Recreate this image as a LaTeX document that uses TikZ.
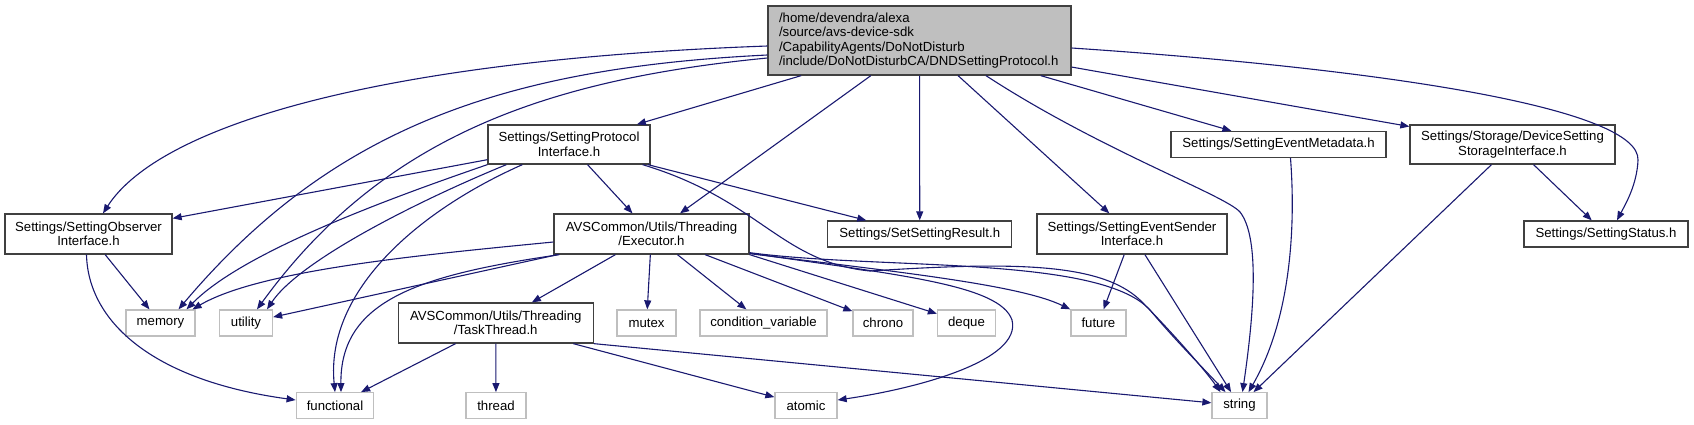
\documentclass[tikz,border=0pt]{standalone}
\usepackage{fontspec}
\setmainfont{Liberation Sans}
\usepackage{xcolor}
\usepackage{tikz}
\usetikzlibrary{arrows.meta}
\definecolor{depblue}{HTML}{191970}
\definecolor{sysgray}{HTML}{BFBFBF}
\definecolor{boxline}{HTML}{404040}
\tikzset{
    hdr/.style={draw=boxline, line width=1.3pt, fill=white, inner sep=0pt,
        align=center, font=\fontsize{13.2}{14.5}\selectfont},
    syshdr/.style={hdr, draw=sysgray},
    roothdr/.style={hdr, fill=sysgray, align=left, text width=281pt,
        inner xsep=11pt, minimum height=69pt},
    dep/.style={draw=depblue, line width=1.1pt,
        -{Triangle[length=9pt,width=7pt]}},
}

\begin{document}
\begin{tikzpicture}[x=1pt,y=-1pt]
    \useasboundingbox (0,0) rectangle (1694,424);

    \node[roothdr] (root) at (919.5,40.5)
        {/home/devendra/alexa\\/source/avs-device-sdk\\/CapabilityAgents/DoNotDisturb\\/include/DoNotDisturbCA/DNDSettingProtocol.h};

    \node[hdr, minimum width=162pt, minimum height=39pt] (proto) at (569,144.5) {Settings/SettingProtocol\\Interface.h};
    \node[hdr, minimum width=215pt, minimum height=26pt] (metadata) at (1278.5,144.5) {Settings/SettingEventMetadata.h};
    \node[hdr, minimum width=205pt, minimum height=39pt] (storage) at (1512.5,144.5) {Settings/Storage/DeviceSetting\\StorageInterface.h};

    \node[hdr, minimum width=167pt, minimum height=40pt] (observer) at (88.5,234) {Settings/SettingObserver\\Interface.h};
    \node[hdr, minimum width=195pt, minimum height=40pt] (executor) at (651.5,234) {AVSCommon/Utils/Threading\\/Executor.h};
    \node[hdr, minimum width=184pt, minimum height=26pt] (setresult) at (919.75,234) {Settings/SetSettingResult.h};
    \node[hdr, minimum width=190pt, minimum height=40pt] (sender) at (1132,234) {Settings/SettingEventSender\\Interface.h};
    \node[hdr, minimum width=164pt, minimum height=26pt] (status) at (1606,234) {Settings/SettingStatus.h};

    \node[syshdr, minimum width=69pt, minimum height=26pt] (memory) at (160.5,323) {memory};
    \node[syshdr, minimum width=53pt, minimum height=26pt] (utility) at (246,323) {utility};
    \node[hdr, minimum width=195pt, minimum height=40pt] (taskthread) at (495.75,323) {AVSCommon/Utils/Threading\\/TaskThread.h};
    \node[syshdr, minimum width=59pt, minimum height=26pt] (mutex) at (646.5,323) {mutex};
    \node[syshdr, minimum width=127pt, minimum height=26pt] (condvar) at (763.5,323) {condition\_variable};
    \node[syshdr, minimum width=60pt, minimum height=26pt] (chrono) at (883,323) {chrono};
    \node[syshdr, minimum width=58pt, minimum height=26pt] (deque) at (966.5,323) {deque};
    \node[syshdr, minimum width=55pt, minimum height=26pt] (future) at (1098.4,323) {future};

    \node[syshdr, minimum width=77.5pt, minimum height=25.5pt] (functional) at (335,405.5) {functional};
    \node[syshdr, minimum width=60pt, minimum height=25.5pt] (thread) at (496,405.5) {thread};
    \node[syshdr, minimum width=62pt, minimum height=25.5pt] (atomic) at (806,405.5) {atomic};
    \node[syshdr, minimum width=55pt, minimum height=25.5pt] (string) at (1239.5,405.5) {string};

    % root header
    \draw[dep] ([yshift=-5.5pt]root.west) .. controls (380,60) and (160,125) .. ([xshift=14.5pt]observer.north);
    \draw[dep] ([yshift=-14.5pt]root.west) .. controls (500,68) and (330,130) .. ([xshift=18pt]memory.north);
    \draw[dep] ([yshift=-17.5pt]root.west) .. controls (540,80) and (380,140) .. ([xshift=11pt]utility.north);
    \draw[dep] (root) -- (proto);
    \draw[dep] (root) -- (executor);
    \draw[dep] (root) -- (setresult);
    \draw[dep] (root) -- (sender);
    \draw[dep] ([xshift=66.5pt]root.south) .. controls (1100,150) and (1225,195) .. (1240,212)
        .. controls (1258,235) and (1256,300) .. ([xshift=3pt]string.north);
    \draw[dep] (root) -- (metadata);
    \draw[dep] (root) -- (storage);
    \draw[dep] ([yshift=-7.5pt]root.east) .. controls (1400,70) and (1640,110) .. (1638,160)
        .. controls (1637,185) and (1625,205) .. ([xshift=11pt]status.north);

    % protocol interface
    \draw[dep] (proto) -- (observer);
    \draw[dep] (proto.south west) .. controls (370,205) and (240,255) .. ([xshift=26pt]memory.north);
    \draw[dep] ([xshift=19pt]proto.south west) .. controls (420,200) and (300,260) .. ([xshift=21pt]utility.north);
    \draw[dep] ([xshift=35pt]proto.south west) .. controls (420,210) and (325,290) .. (functional.north);
    \draw[dep] (proto) -- (executor);
    \draw[dep] (proto) -- (setresult);
    \draw[dep] ([xshift=-8pt]proto.south east) .. controls (760,200) and (780,262) .. (870,271)
        .. controls (1010,262) and (1100,262) .. (1140,300)
        .. controls (1170,330) and (1205,370) .. ([xshift=-19pt]string.north);

    % executor
    \draw[dep] ([yshift=-8pt]executor.west) .. controls (420,255) and (260,270) .. ([xshift=32pt]memory.north);
    \draw[dep] (executor) -- (utility);
    \draw[dep] ([xshift=6pt]executor.south west) .. controls (420,275) and (340,300) .. ([xshift=6pt]functional.north);
    \draw[dep] (executor) -- (taskthread);
    \draw[dep] (executor) -- (mutex);
    \draw[dep] (executor) -- (condvar);
    \draw[dep] (executor) -- (chrono);
    \draw[dep] (executor.south east) -- (deque);
    \draw[dep] ([yshift=1pt]executor.south east) .. controls (900,272) and (1020,285) .. (future.north west);
    \draw[dep] ([yshift=2pt]executor.south east) .. controls (880,270) and (1100,255) .. (1150,310)
        .. controls (1175,340) and (1205,370) .. ([xshift=-14pt]string.north);
    \draw[dep] ([yshift=1.5pt]executor.south east) .. controls (900,275) and (1000,285) .. (1012,320)
        .. controls (1022,360) and (920,388) .. ([yshift=5.5pt]atomic.east);

    % task thread
    \draw[dep] (taskthread) -- (functional);
    \draw[dep] (taskthread) -- (thread);
    \draw[dep] (taskthread) -- (atomic);
    \draw[dep] (taskthread.south east) -- (string);

    % the rest
    \draw[dep] (observer) -- (memory);
    \draw[dep] ([xshift=-2pt]observer.south) .. controls (88,320) and (150,380) .. ([yshift=5.5pt]functional.west);
    \draw[dep] (sender) -- (future);
    \draw[dep] (sender) -- (string);
    \draw[dep] ([xshift=12pt]metadata.south) .. controls (1296,230) and (1290,320) .. ([xshift=9pt]string.north);
    \draw[dep] (storage) -- (string);
    \draw[dep] (storage) -- (status);
\end{tikzpicture}
\end{document}
